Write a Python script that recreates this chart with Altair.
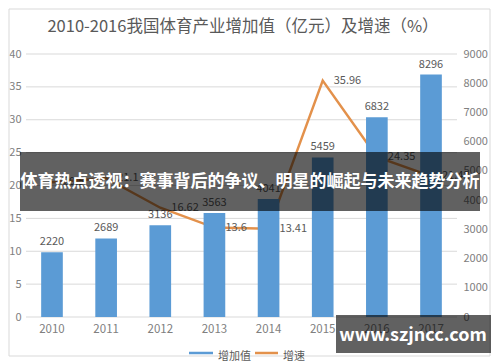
import altair as alt
import pandas as pd

years = ["2010", "2011", "2012", "2013", "2014", "2015", "2016", "2017"]
value_added = [2220, 2689, 3136, 3563, 4041, 5459, 6832, 8296]
growth = [20.5, 21.1, 16.62, 13.6, 13.41, 35.96, 24.35, 21.42]
growth_labels = ["20.5", "21.1", "16.62", "13.6", "13.41", "35.96", "24.35", "21.42"]
left_ticks = [0, 5, 10, 15, 20, 25, 30, 35, 40]
right_ticks = [0, 1000, 2000, 3000, 4000, 5000, 6000, 7000, 8000, 9000]

title_text = "2010-2016我国体育产业增加值（亿元）及增速（%）"
banner_text = "体育热点透视：赛事背后的争议、明星的崛起与未来趋势分析"
watermark_text = "www.szjncc.com"
legend_names = ["增加值", "增速"]

FONT = "Noto Sans CJK SC"
BLUE = "#5B9BD5"
ORANGE = "#E3914B"
GRAY = "#808080"

df = pd.DataFrame({"year": years, "value": value_added,
                   "growth": growth, "glabel": growth_labels})
grid_df = pd.DataFrame({"t": left_ticks})
one = pd.DataFrame({"k": [0]})

xscale = alt.Scale(paddingInner=0.6, paddingOuter=0.28)
x_plain = alt.X("year:N", scale=xscale, axis=None)

yr_scale = alt.Scale(domain=[0, 9000], nice=False)
yl_scale = alt.Scale(domain=[0, 40], nice=False)

base = alt.Chart(df)

grid = alt.Chart(grid_df).mark_rule(color="#d9d9d9", strokeWidth=1).encode(
    y=alt.Y("t:Q", scale=yl_scale, axis=None),
    x=alt.value(0), x2=alt.value(431))

line = base.mark_line(color=ORANGE, strokeWidth=2.5).encode(
    x=x_plain,
    y=alt.Y("growth:Q", scale=yl_scale,
            axis=alt.Axis(orient="left", values=left_ticks, grid=False,
                          title=None, domain=False, ticks=False, labelPadding=5,
                          labelFont=FONT, labelFontSize=11, labelColor=GRAY)))

bars = base.mark_bar(color=BLUE).encode(
    x=x_plain,
    y=alt.Y("value:Q", scale=yr_scale,
            axis=alt.Axis(orient="right", values=right_ticks, grid=False, title=None,
                          domain=False, ticks=False, labelPadding=6, format="d",
                          labelFont=FONT, labelFontSize=11, labelColor=GRAY)))

bar_text = base.mark_text(baseline="bottom", dy=-5, fontSize=11, color="#595959", font=FONT).encode(
    x=x_plain,
    y=alt.Y("value:Q", scale=yr_scale, axis=None),
    text=alt.Text("value:Q", format="d"))

line_text = base.mark_text(align="left", baseline="middle", dx=11, fontSize=11,
                           color="#595959", font=FONT).encode(
    x=x_plain,
    y=alt.Y("growth:Q", scale=yl_scale, axis=None),
    text="glabel:N")

x_labels = base.mark_text(baseline="middle", align="center", fontSize=11.5,
                          color=GRAY, font=FONT).encode(
    x=x_plain, y=alt.value(276), text="year:N")

frame = alt.Chart(one).mark_rect(fillOpacity=0, stroke="#d9d9d9", strokeWidth=1).encode(
    x=alt.value(-17), x2=alt.value(464), y=alt.value(-45), y2=alt.value(302))

title = alt.Chart(one).mark_text(fontSize=16.5, color="#595959", font=FONT,
                                 align="center", baseline="middle").encode(
    x=alt.value(217), y=alt.value(-27), text=alt.value(title_text))

leg_rule1 = alt.Chart(one).mark_rule(color=BLUE, strokeWidth=2.5).encode(
    x=alt.value(163), x2=alt.value(187), y=alt.value(299))
leg_text1 = alt.Chart(one).mark_text(fontSize=11, color="#595959", font=FONT,
                                     align="left", baseline="middle").encode(
    x=alt.value(192), y=alt.value(303), text=alt.value(legend_names[0]))
leg_rule2 = alt.Chart(one).mark_rule(color=ORANGE, strokeWidth=2.5).encode(
    x=alt.value(229), x2=alt.value(252), y=alt.value(299))
leg_text2 = alt.Chart(one).mark_text(fontSize=11, color="#595959", font=FONT,
                                     align="left", baseline="middle").encode(
    x=alt.value(257), y=alt.value(303), text=alt.value(legend_names[1]))

banner_rect = alt.Chart(one).mark_rect(color="black", opacity=0.62).encode(
    x=alt.value(-6), x2=alt.value(454), y=alt.value(98), y2=alt.value(157))
banner = alt.Chart(one).mark_text(fontSize=17, fontWeight="bold", color="white", font=FONT,
                                  align="center", baseline="middle").encode(
    x=alt.value(224), y=alt.value(128), text=alt.value(banner_text))

wm_rect = alt.Chart(one).mark_rect(color="black", opacity=0.62).encode(
    x=alt.value(310), x2=alt.value(465), y=alt.value(261), y2=alt.value(299))
wm = alt.Chart(one).mark_text(fontSize=18, fontWeight="bold", color="white", font=FONT,
                              align="center", baseline="middle").encode(
    x=alt.value(387), y=alt.value(282), text=alt.value(watermark_text))

chart = alt.layer(
    grid, line, bars, frame, bar_text, line_text, x_labels, title,
    leg_rule1, leg_text1, leg_rule2, leg_text2,
    banner_rect, banner, wm_rect, wm
).resolve_scale(y="independent").properties(
    width=431, height=263,
    padding={"left": 18, "top": 46, "right": 35, "bottom": 45},
    autosize=alt.AutoSizeParams(type="none"),
).configure_view(stroke=None)

chart.save("out.html", embed_options={"renderer": "svg", "actions": False})
